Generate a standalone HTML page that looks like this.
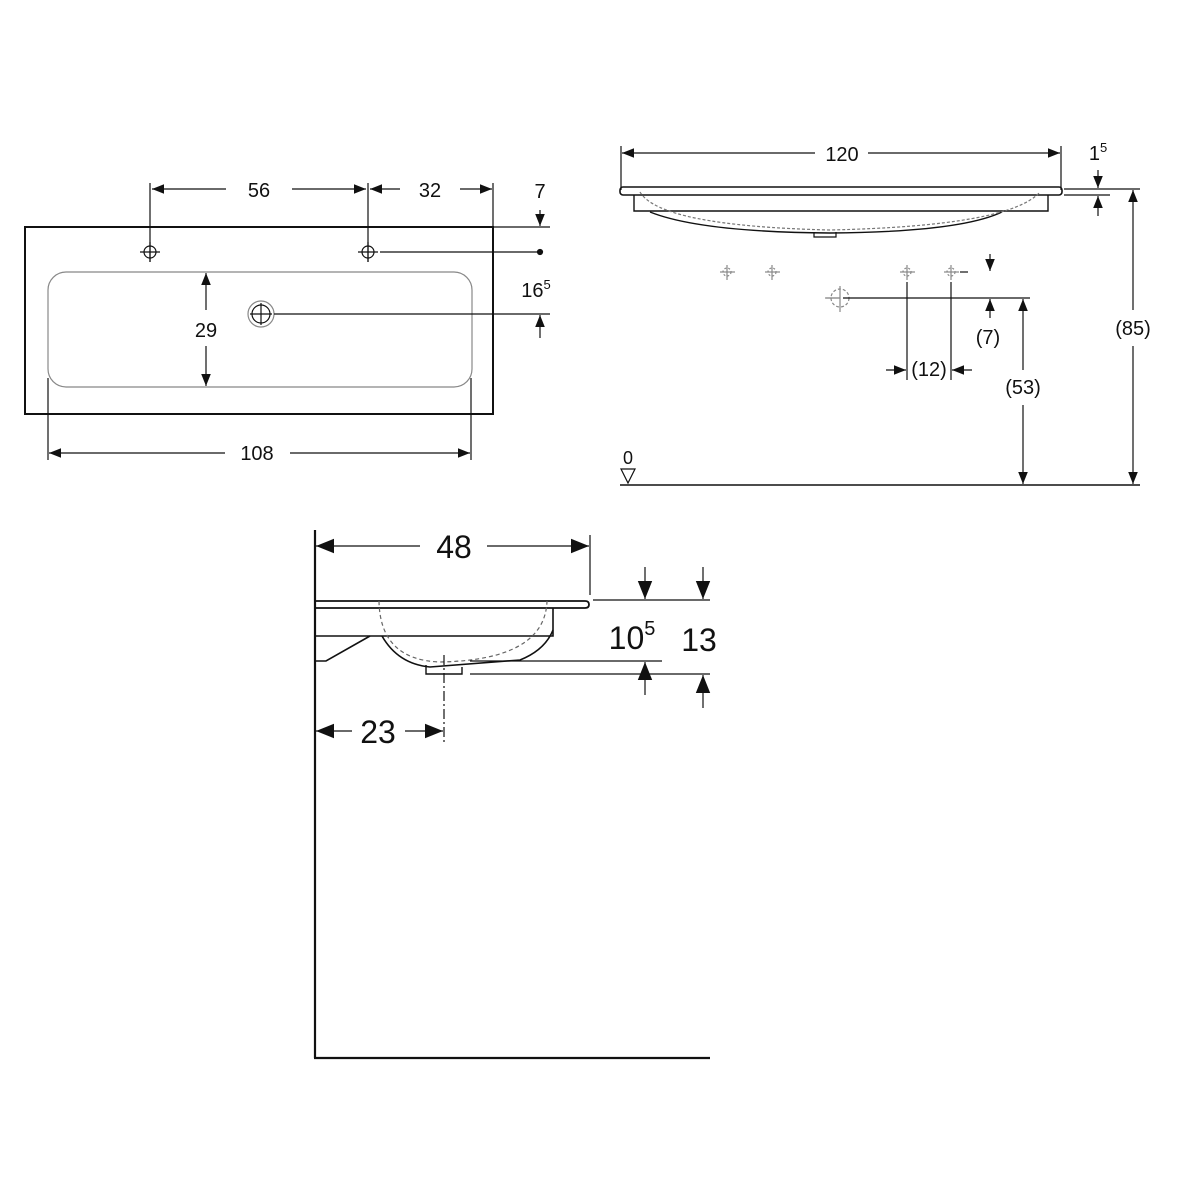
<!DOCTYPE html>
<html><head><style>body{margin:0;background:#fff}svg{display:block}text{font-family:"Liberation Sans",sans-serif;fill:#111}</style></head><body>
<svg width="1200" height="1200" viewBox="0 0 1200 1200" xmlns="http://www.w3.org/2000/svg">
<defs>
<marker id="a" viewBox="0 0 10 10" refX="10" refY="5" markerWidth="12" markerHeight="12" markerUnits="userSpaceOnUse" orient="auto-start-reverse"><path d="M0,1 L10,5 L0,9z" fill="#111"/></marker>
<marker id="b" viewBox="0 0 10 10" refX="10" refY="5" markerWidth="18" markerHeight="18" markerUnits="userSpaceOnUse" orient="auto-start-reverse"><path d="M0,1 L10,5 L0,9z" fill="#111"/></marker>
</defs>
<g stroke="#111" fill="none" stroke-width="1.2">
<!-- top-left view -->
<rect x="25" y="227" width="468" height="187" stroke-width="2"/>
<rect x="48" y="272" width="424" height="115" rx="18" stroke="#888"/>
<line x1="150" y1="183" x2="150" y2="262"/><line x1="368" y1="183" x2="368" y2="262"/>
<line x1="493" y1="183" x2="493" y2="227"/>
<line x1="152" y1="189" x2="226" y2="189" marker-start="url(#a)"/><line x1="292" y1="189" x2="366" y2="189" marker-end="url(#a)"/>
<line x1="370" y1="189" x2="400" y2="189" marker-start="url(#a)"/><line x1="460" y1="189" x2="492" y2="189" marker-end="url(#a)"/>
<circle cx="150" cy="252" r="6"/><line x1="140" y1="252" x2="160" y2="252"/><line x1="150" y1="242" x2="150" y2="262"/>
<circle cx="368" cy="252" r="6"/><line x1="358" y1="252" x2="378" y2="252"/><line x1="368" y1="242" x2="368" y2="262"/>
<line x1="380" y1="252" x2="540" y2="252"/><circle cx="540" cy="252" r="2.5" fill="#111"/>
<line x1="493" y1="227" x2="550" y2="227"/>
<line x1="540" y1="210" x2="540" y2="226" marker-end="url(#a)"/>
<circle cx="261" cy="314" r="13" stroke="#888"/><circle cx="261" cy="314" r="9"/><line x1="250" y1="314" x2="272" y2="314"/><line x1="261" y1="303" x2="261" y2="325"/>
<line x1="274" y1="314" x2="550" y2="314"/>
<line x1="540" y1="338" x2="540" y2="315" marker-end="url(#a)"/>
<line x1="206" y1="310" x2="206" y2="273" marker-end="url(#a)"/><line x1="206" y1="346" x2="206" y2="386" marker-end="url(#a)"/>
<line x1="48" y1="378" x2="48" y2="460"/><line x1="471" y1="378" x2="471" y2="460"/>
<line x1="49" y1="453" x2="225" y2="453" marker-start="url(#a)"/><line x1="290" y1="453" x2="470" y2="453" marker-end="url(#a)"/>
<!-- top-right view -->
<line x1="621" y1="146" x2="621" y2="190"/><line x1="1061" y1="146" x2="1061" y2="190"/>
<line x1="622" y1="153" x2="815" y2="153" marker-start="url(#a)"/><line x1="868" y1="153" x2="1060" y2="153" marker-end="url(#a)"/>
<rect x="620" y="187" width="442" height="8" rx="3" stroke-width="1.6"/>
<path d="M634,195 V211 H1048 V195" stroke-width="1.4"/>
<path d="M650,212 Q700,232 830,233 Q960,232 1002,212" stroke-width="1.4"/>
<path d="M640,192 Q660,226 830,230 Q1010,226 1040,192" stroke="#777" stroke-dasharray="3,2"/>
<path d="M814,232 V237 H836 V232"/>
<line x1="1064" y1="189" x2="1140" y2="189"/><line x1="1064" y1="195" x2="1110" y2="195"/>
<line x1="1098" y1="170" x2="1098" y2="188" marker-end="url(#a)"/><line x1="1098" y1="216" x2="1098" y2="196" marker-end="url(#a)"/>
<line x1="1133" y1="310" x2="1133" y2="190" marker-end="url(#a)"/><line x1="1133" y1="346" x2="1133" y2="484" marker-end="url(#a)"/>
<line x1="620" y1="485" x2="1140" y2="485" stroke-width="1.6"/>
<path d="M621,469 H635 L628,483z"/>
<g stroke="#888"><line x1="720" y1="272" x2="735" y2="272"/><line x1="727" y1="265" x2="727" y2="280"/><circle cx="727" cy="272" r="4" stroke-dasharray="2,2"/>
<line x1="765" y1="272" x2="780" y2="272"/><line x1="772" y1="265" x2="772" y2="280"/><circle cx="772" cy="272" r="4" stroke-dasharray="2,2"/>
<line x1="900" y1="272" x2="915" y2="272"/><line x1="907" y1="265" x2="907" y2="280"/><circle cx="907" cy="272" r="4" stroke-dasharray="2,2"/>
<line x1="944" y1="272" x2="959" y2="272"/><line x1="951" y1="265" x2="951" y2="280"/><circle cx="951" cy="272" r="4" stroke-dasharray="2,2"/>
<line x1="826" y1="298" x2="840" y2="298"/><line x1="825" y1="298" x2="840" y2="298"/><line x1="840" y1="286" x2="840" y2="312"/><circle cx="840" cy="298" r="9" stroke-dasharray="3,2"/></g>
<line x1="960" y1="272" x2="968" y2="272"/>
<line x1="990" y1="254" x2="990" y2="271" marker-end="url(#a)"/>
<line x1="843" y1="298" x2="1030" y2="298"/>
<line x1="990" y1="318" x2="990" y2="299" marker-end="url(#a)"/>
<line x1="1023" y1="370" x2="1023" y2="299" marker-end="url(#a)"/><line x1="1023" y1="405" x2="1023" y2="484" marker-end="url(#a)"/>
<line x1="907" y1="282" x2="907" y2="380"/><line x1="951" y1="282" x2="951" y2="380"/>
<line x1="886" y1="370" x2="906" y2="370" marker-end="url(#a)"/><line x1="972" y1="370" x2="952" y2="370" marker-end="url(#a)"/>
<!-- bottom view -->
<line x1="315" y1="530" x2="315" y2="1058" stroke-width="2.2"/><line x1="314" y1="1058" x2="710" y2="1058" stroke-width="2.2"/>
<line x1="590" y1="535" x2="590" y2="595"/>
<line x1="316" y1="546" x2="420" y2="546" marker-start="url(#b)"/><line x1="487" y1="546" x2="589" y2="546" marker-end="url(#b)"/>
<path d="M315,601 H585 Q589,601 589,604.5 Q589,608 585,608 H315" stroke-width="1.8"/>
<path d="M315,608 V636 H553 V608" stroke-width="1.6"/>
<path d="M315,636 V661 H326 L370,636" stroke-width="1.6"/>
<path d="M382,636 Q398,664 430,667 L520,660 Q545,650 553,630" stroke-width="1.6"/>
<path d="M379,601 Q380,660 440,662 Q545,660 547,601" stroke="#666" stroke-dasharray="4,3"/>
<path d="M426,665 V674 H462 V667" stroke-width="1.4"/>
<line x1="444" y1="655" x2="444" y2="742" stroke-dasharray="10,3,2,3"/>
<line x1="593" y1="600" x2="710" y2="600"/>
<line x1="645" y1="567" x2="645" y2="599" marker-end="url(#b)"/><line x1="703" y1="567" x2="703" y2="599" marker-end="url(#b)"/>
<line x1="470" y1="661" x2="662" y2="661"/><line x1="470" y1="674" x2="710" y2="674"/>
<line x1="645" y1="695" x2="645" y2="662" marker-end="url(#b)"/><line x1="703" y1="708" x2="703" y2="675" marker-end="url(#b)"/>
<line x1="316" y1="731" x2="352" y2="731" marker-start="url(#b)"/><line x1="405" y1="731" x2="443" y2="731" marker-end="url(#b)"/>
</g>
<g font-size="20" text-anchor="middle">
<text x="259" y="197">56</text><text x="430" y="197">32</text><text x="540" y="198">7</text>
<text x="536" y="297">16<tspan font-size="13" dy="-8">5</tspan></text>
<text x="206" y="337">29</text><text x="257" y="460">108</text>
<text x="842" y="161">120</text>
<text x="1098" y="160">1<tspan font-size="13" dy="-8">5</tspan></text>
<text x="1133" y="335">(85)</text><text x="1023" y="394">(53)</text><text x="988" y="344">(7)</text><text x="929" y="376">(12)</text>
<text x="628" y="464" font-size="18">0</text>
</g>
<g font-size="32" text-anchor="middle">
<text x="454" y="558">48</text>
<text x="632" y="649">10<tspan font-size="20" dy="-14">5</tspan></text>
<text x="699" y="651">13</text>
<text x="378" y="743">23</text>
</g>
</svg>
</body></html>
